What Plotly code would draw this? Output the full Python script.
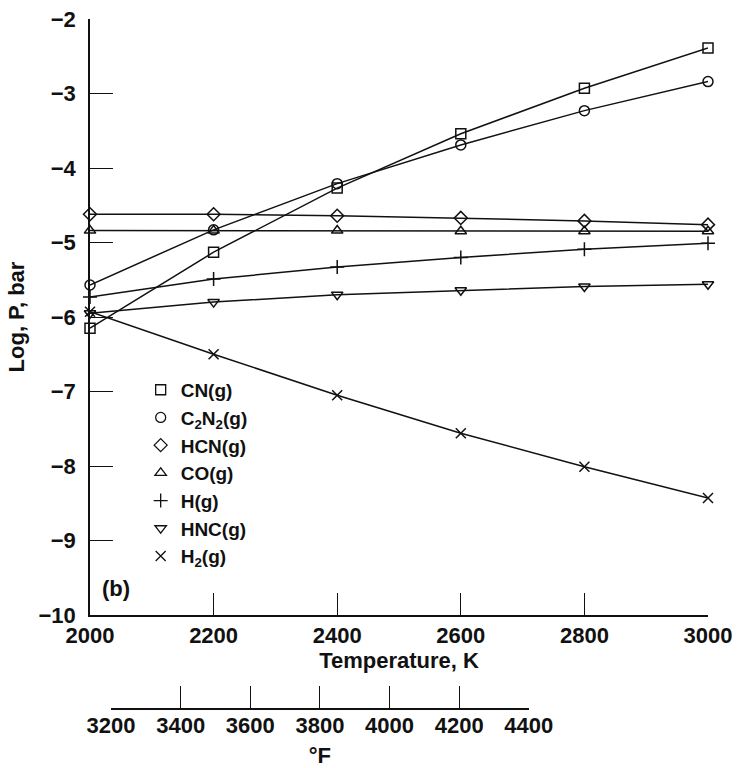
import plotly.graph_objects as go

# Temperature grid (K)
temperature_k = [2000, 2200, 2400, 2600, 2800, 3000]

# log10 partial pressures (bar) of each gaseous species
cn = [-6.15, -5.13, -4.27, -3.54, -2.93, -2.39]
c2n2 = [-5.57, -4.83, -4.21, -3.69, -3.23, -2.84]
hcn = [-4.62, -4.62, -4.64, -4.67, -4.71, -4.76]
co = [-4.84, -4.84, -4.84, -4.85, -4.85, -4.85]
h = [-5.73, -5.49, -5.33, -5.20, -5.09, -5.01]
hnc = [-5.95, -5.80, -5.70, -5.64, -5.59, -5.56]
h2 = [-5.93, -6.50, -7.05, -7.56, -8.01, -8.43]

species_names = ["CN(g)", "C<sub>2</sub>N<sub>2</sub>(g)", "HCN(g)", "CO(g)",
                 "H(g)", "HNC(g)", "H<sub>2</sub>(g)"]
species_values = [cn, c2n2, hcn, co, h, hnc, h2]
species_symbols = ["square-open", "circle-open", "diamond-open", "triangle-up-open",
                   "cross-thin-open", "triangle-down-open", "x-thin-open"]

# Tick labels
k_ticks = [2000, 2200, 2400, 2600, 2800, 3000]
log_ticks = [-10, -9, -8, -7, -6, -5, -4, -3, -2]
f_ticks = [3200, 3400, 3600, 3800, 4000, 4200, 4400]

FONT = "Liberation Sans"
BLACK = "#111111"

fig = go.Figure()

# Curves with markers
for name, vals, sym in zip(species_names, species_values, species_symbols):
    fig.add_trace(go.Scatter(
        x=temperature_k, y=vals, mode="lines+markers",
        line=dict(color=BLACK, width=1.5),
        marker=dict(symbol=sym, size=10, color=BLACK, line=dict(color=BLACK, width=1.5)),
        showlegend=False, hoverinfo="skip", cliponaxis=False,
    ))

# Marker-only legend entries
for name, sym in zip(species_names, species_symbols):
    fig.add_trace(go.Scatter(
        x=[None], y=[None], mode="markers", name=name,
        marker=dict(symbol=sym, size=10, color=BLACK, line=dict(color=BLACK, width=1.3)),
    ))

# Carrier trace for the Fahrenheit scale
fig.add_trace(go.Scatter(
    x=f_ticks, y=[None] * len(f_ticks), xaxis="x2", yaxis="y",
    mode="markers", showlegend=False, hoverinfo="skip",
))

tick_font = dict(family=FONT, size=22, color=BLACK, weight="bold")

fig.add_annotation(
    text="(b)", xref="x domain", yref="y domain", x=0.042, y=0.045,
    xanchor="center", yanchor="middle", showarrow=False, font=tick_font,
)

fig.update_layout(
    width=738, height=768,
    margin=dict(l=90, r=30, t=19, b=59),
    paper_bgcolor="white", plot_bgcolor="rgba(0,0,0,0)",
    font=dict(family=FONT, color=BLACK),
    xaxis=dict(
        domain=[0, 1], range=[2000, 3000], anchor="y", automargin=False,
        tickvals=k_ticks, ticks="inside", ticklen=22, tickwidth=1.3, tickcolor=BLACK,
        showline=True, linecolor=BLACK, linewidth=1.5, mirror=False,
        showgrid=False, zeroline=False, tickfont=tick_font,
        title=dict(text="Temperature, K", font=tick_font, standoff=4),
    ),
    yaxis=dict(
        domain=[0.1362, 1], range=[-10, -2], anchor="x", automargin=False,
        tickvals=log_ticks, ticks="inside", ticklen=23, tickwidth=1.3, tickcolor=BLACK,
        showline=True, linecolor=BLACK, linewidth=1.5,
        showgrid=False, zeroline=False, tickfont=tick_font, ticklabelstandoff=8,
        title=dict(text="Log, P, bar", font=tick_font, standoff=8),
    ),
    xaxis2=dict(
        domain=[0.034, 0.710], range=[3200, 4400], anchor="free", position=0,
        automargin=False,
        tickvals=f_ticks, ticks="inside", ticklen=22, tickwidth=1.3, tickcolor=BLACK,
        showline=True, linecolor=BLACK, linewidth=1.5,
        showgrid=False, zeroline=False, tickfont=tick_font, ticklabelstandoff=-3,
        title=dict(text="°F", font=tick_font, standoff=14),
    ),
    legend=dict(
        x=0.082, y=0.49, xanchor="left", yanchor="top",
        bgcolor="rgba(0,0,0,0)", borderwidth=0,
        font=dict(family=FONT, size=19, color=BLACK, weight="bold"),
        itemsizing="trace", tracegroupgap=0,
    ),
)

fig.write_html("out.html")
